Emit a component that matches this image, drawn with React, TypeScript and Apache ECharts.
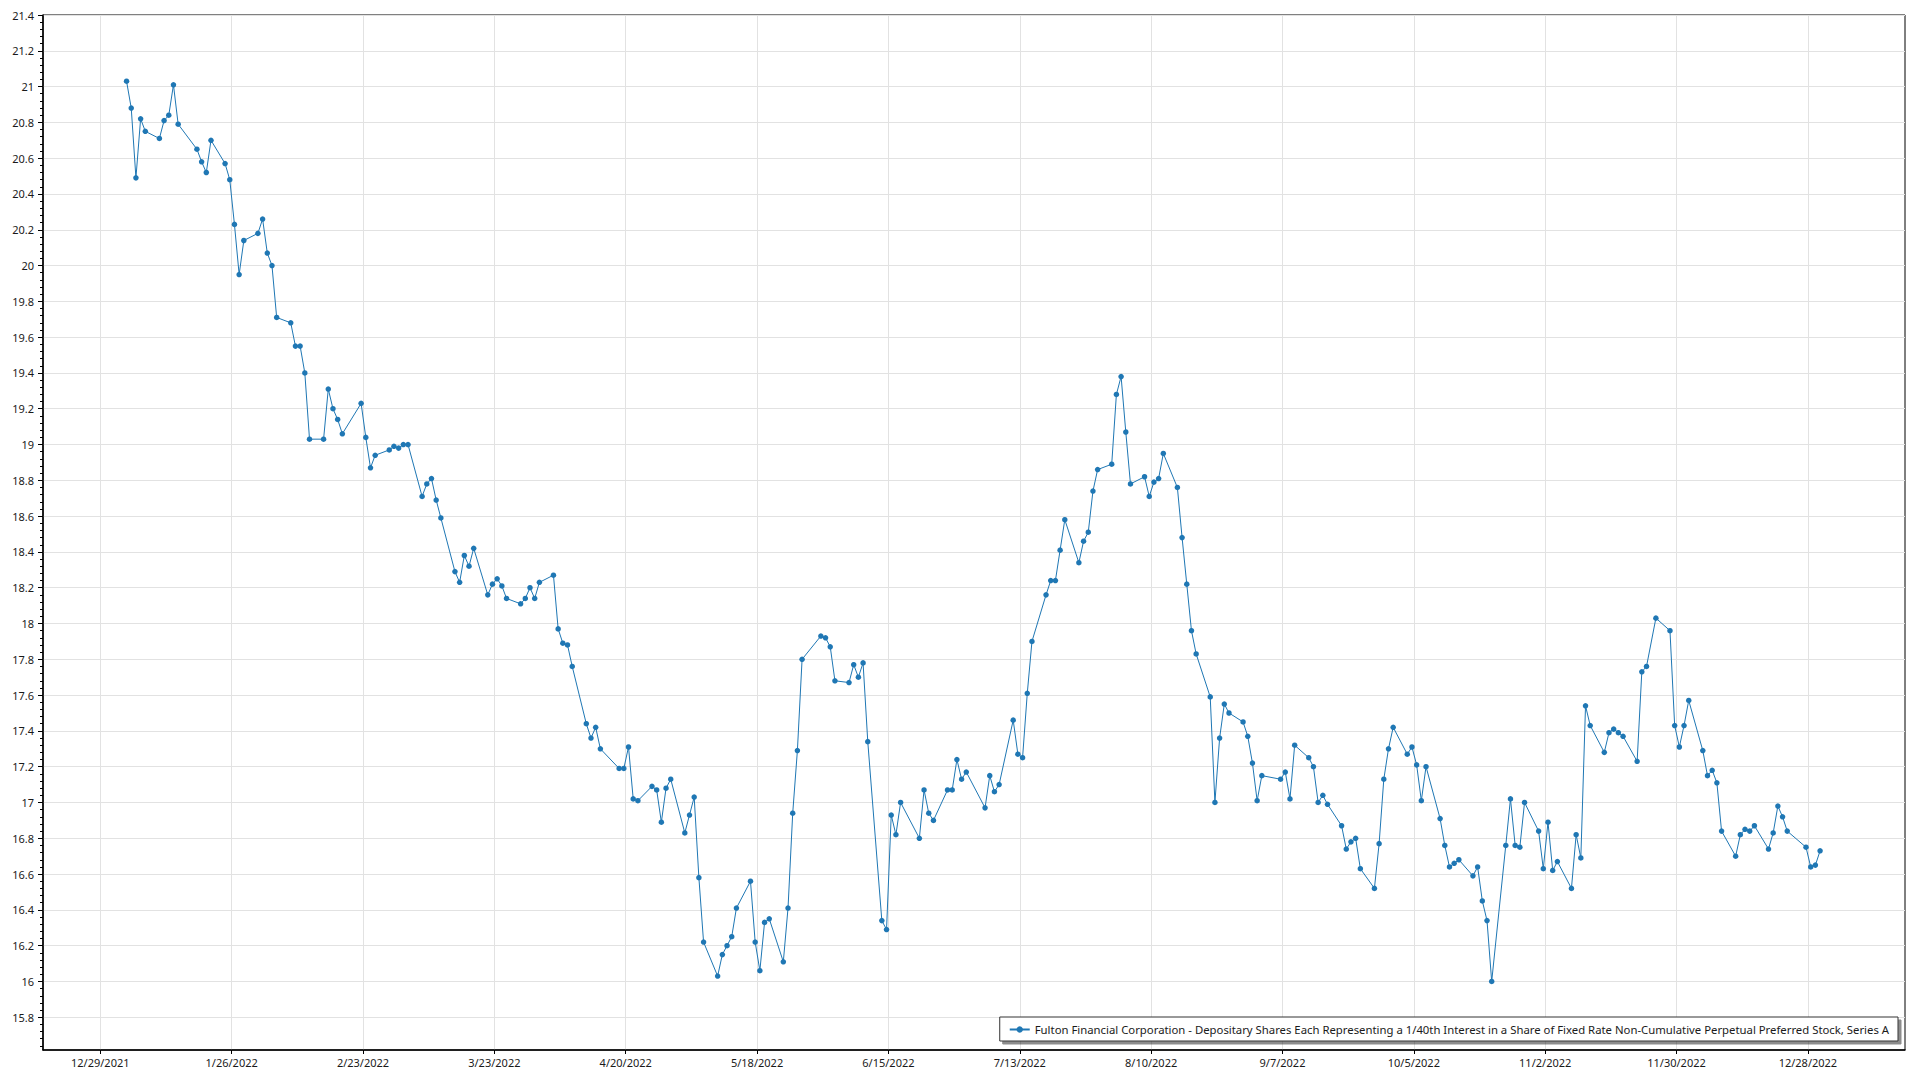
import React, { useEffect, useRef } from "react";
import * as echarts from "echarts";

const SERIES_NAME =
  "Fulton Financial Corporation - Depositary Shares Each Representing a 1/40th Interest in a Share of Fixed Rate Non-Cumulative Perpetual Preferred Stock, Series A";

// Trading days of 2022 (day of month) and closing prices
const janDays = [3, 4, 5, 6, 7, 10, 11, 12, 13, 14, 18, 19, 20, 21, 24, 25, 26, 27, 28, 31];
const janPrices = [21.03, 20.88, 20.49, 20.82, 20.75, 20.71, 20.81, 20.84, 21.01, 20.79, 20.65, 20.58, 20.52, 20.7, 20.57, 20.48, 20.23, 19.95, 20.14, 20.18];
const febDays = [1, 2, 3, 4, 7, 8, 9, 10, 11, 14, 15, 16, 17, 18, 22, 23, 24, 25, 28];
const febPrices = [20.26, 20.07, 20.0, 19.71, 19.68, 19.55, 19.55, 19.4, 19.03, 19.03, 19.31, 19.2, 19.14, 19.06, 19.23, 19.04, 18.87, 18.94, 18.97];
const marDays = [1, 2, 3, 4, 7, 8, 9, 10, 11, 14, 15, 16, 17, 18, 21, 22, 23, 24, 25, 28, 29, 30, 31];
const marPrices = [18.99, 18.98, 19.0, 19.0, 18.71, 18.78, 18.81, 18.69, 18.59, 18.29, 18.23, 18.38, 18.32, 18.42, 18.16, 18.22, 18.25, 18.21, 18.14, 18.11, 18.14, 18.2, 18.14];
const aprDays = [1, 4, 5, 6, 7, 8, 11, 12, 13, 14, 18, 19, 20, 21, 22, 25, 26, 27, 28, 29];
const aprPrices = [18.23, 18.27, 17.97, 17.89, 17.88, 17.76, 17.44, 17.36, 17.42, 17.3, 17.19, 17.19, 17.31, 17.02, 17.01, 17.09, 17.07, 16.89, 17.08, 17.13];
const mayDays = [2, 3, 4, 5, 6, 9, 10, 11, 12, 13, 16, 17, 18, 19, 20, 23, 24, 25, 26, 27, 31];
const mayPrices = [16.83, 16.93, 17.03, 16.58, 16.22, 16.03, 16.15, 16.2, 16.25, 16.41, 16.56, 16.22, 16.06, 16.33, 16.35, 16.11, 16.41, 16.94, 17.29, 17.8, 17.93];
const junDays = [1, 2, 3, 6, 7, 8, 9, 10, 13, 14, 15, 16, 17, 21, 22, 23, 24, 27, 28, 29, 30];
const junPrices = [17.92, 17.87, 17.68, 17.67, 17.77, 17.7, 17.78, 17.34, 16.34, 16.29, 16.93, 16.82, 17.0, 16.8, 17.07, 16.94, 16.9, 17.07, 17.07, 17.24, 17.13];
const julDays = [1, 5, 6, 7, 8, 11, 12, 13, 14, 15, 18, 19, 20, 21, 22, 25, 26, 27, 28, 29];
const julPrices = [17.17, 16.97, 17.15, 17.06, 17.1, 17.46, 17.27, 17.25, 17.61, 17.9, 18.16, 18.24, 18.24, 18.41, 18.58, 18.34, 18.46, 18.51, 18.74, 18.86];
const augDays = [1, 2, 3, 4, 5, 8, 9, 10, 11, 12, 15, 16, 17, 18, 19, 22, 23, 24, 25, 26, 29, 30, 31];
const augPrices = [18.89, 19.28, 19.38, 19.07, 18.78, 18.82, 18.71, 18.79, 18.81, 18.95, 18.76, 18.48, 18.22, 17.96, 17.83, 17.59, 17.0, 17.36, 17.55, 17.5, 17.45, 17.37, 17.22];
const sepDays = [1, 2, 6, 7, 8, 9, 12, 13, 14, 15, 16, 19, 20, 21, 22, 23, 26, 27, 28, 29, 30];
const sepPrices = [17.01, 17.15, 17.13, 17.17, 17.02, 17.32, 17.25, 17.2, 17.0, 17.04, 16.99, 16.87, 16.74, 16.78, 16.8, 16.63, 16.52, 16.77, 17.13, 17.3, 17.42];
const octDays = [3, 4, 5, 6, 7, 10, 11, 12, 13, 14, 17, 18, 19, 20, 21, 24, 25, 26, 27, 28, 31];
const octPrices = [17.27, 17.31, 17.21, 17.01, 17.2, 16.91, 16.76, 16.64, 16.66, 16.68, 16.59, 16.64, 16.45, 16.34, 16.0, 16.76, 17.02, 16.76, 16.75, 17.0, 16.84];
const novDays = [1, 2, 3, 4, 7, 8, 9, 10, 11, 14, 15, 16, 17, 18, 21, 22, 23, 25, 28, 29, 30];
const novPrices = [16.63, 16.89, 16.62, 16.67, 16.52, 16.82, 16.69, 17.54, 17.43, 17.28, 17.39, 17.41, 17.39, 17.37, 17.23, 17.73, 17.76, 18.03, 17.96, 17.43, 17.31];
const decDays = [1, 2, 5, 6, 7, 8, 9, 12, 13, 14, 15, 16, 19, 20, 21, 22, 23, 27, 28, 29, 30];
const decPrices = [17.43, 17.57, 17.29, 17.15, 17.18, 17.11, 16.84, 16.7, 16.82, 16.85, 16.84, 16.87, 16.74, 16.83, 16.98, 16.92, 16.84, 16.75, 16.64, 16.65, 16.73];

const monthDays = [janDays, febDays, marDays, aprDays, mayDays, junDays, julDays, augDays, sepDays, octDays, novDays, decDays];
const monthPrices = [janPrices, febPrices, marPrices, aprPrices, mayPrices, junPrices, julPrices, augPrices, sepPrices, octPrices, novPrices, decPrices];

// x axis: days counted from 12/29/2021; tick labels every 4 weeks
const X_MIN = -12.21;
const X_MAX = 384.7;
const xTickDays = [0, 28, 56, 84, 112, 140, 168, 196, 224, 252, 280, 308, 336, 364];
const yTickValues = [15.8, 16, 16.2, 16.4, 16.6, 16.8, 17, 17.2, 17.4, 17.6, 17.8, 18, 18.2, 18.4, 18.6, 18.8, 19, 19.2, 19.4, 19.6, 19.8, 20, 20.2, 20.4, 20.6, 20.8, 21, 21.2, 21.4];
const Y_MIN = 15.617;
const Y_MAX = 21.4;
const POINT_TIME_OF_DAY = 0.6; // points sit a little past their date's tick

const DAY_MS = 86400000;
const ORIGIN = Date.UTC(2021, 11, 29);

function dayLabel(v: number): string {
  const d = new Date(ORIGIN + Math.round(v) * DAY_MS);
  return `${d.getUTCMonth() + 1}/${d.getUTCDate()}/${d.getUTCFullYear()}`;
}

export default function App() {
  const ref = useRef<HTMLDivElement>(null);

  useEffect(() => {
    if (!ref.current) return;
    const chart = echarts.init(ref.current, undefined, { renderer: "svg" });

    const data: [number, number][] = [];
    monthDays.forEach((days, m) => {
      days.forEach((day, i) => {
        const x = (Date.UTC(2022, m, day) - ORIGIN) / DAY_MS + POINT_TIME_OF_DAY;
        data.push([x, monthPrices[m][i]]);
      });
    });

    const minorTicks: number[] = [];
    for (let k = 0; k <= 150; k++) {
      const v = Math.round((15.64 + k * 0.04) * 100) / 100;
      if (v > Y_MAX + 1e-6) break;
      minorTicks.push(v);
    }

    const font = "'Noto Sans', 'Open Sans', sans-serif";

    chart.setOption({
      animation: false,
      backgroundColor: "#ffffff",
      grid: {
        left: 43,
        right: 15,
        top: 15,
        bottom: 30,
        show: true,
        borderColor: "#000000",
        borderWidth: 1,
        backgroundColor: "transparent",
        containLabel: false,
      },
      legend: {
        show: true,
        right: 22,
        top: 1017,
        orient: "horizontal",
        backgroundColor: "#ffffff",
        borderColor: "#333333",
        borderWidth: 1,
        borderRadius: 0,
        padding: [7, 9, 6, 9],
        itemWidth: 20,
        itemHeight: 8,
        shadowColor: "rgba(0,0,0,0.45)",
        shadowBlur: 0,
        shadowOffsetX: 3,
        shadowOffsetY: 3,
        textStyle: { fontFamily: font, fontSize: 11.33, color: "#1a1a1a" },
        data: [SERIES_NAME],
      },
      xAxis: {
        type: "value",
        min: X_MIN,
        max: X_MAX,
        axisLine: { show: true, onZero: false, lineStyle: { color: "#000000", width: 1.5 } },
        axisTick: { show: true, length: 4, lineStyle: { color: "#000000" }, customValues: xTickDays },
        axisLabel: {
          show: true,
          customValues: xTickDays,
          formatter: (v: number) => dayLabel(v),
          fontFamily: font,
          fontSize: 11,
          color: "#1a1a1a",
          margin: 7,
        },
        splitLine: { show: true, lineStyle: { color: "#e2e2e2", width: 1 } },
      },
      yAxis: [
        {
          type: "value",
          min: Y_MIN,
          max: Y_MAX,
          position: "left",
          axisLine: { show: true, onZero: false, lineStyle: { color: "#000000", width: 1.5 } },
          axisTick: { show: true, length: 5, lineStyle: { color: "#000000" }, customValues: yTickValues },
          axisLabel: {
            show: true,
            customValues: yTickValues,
            fontFamily: font,
            fontSize: 11,
            color: "#1a1a1a",
            margin: 9,
          },
          splitLine: { show: true, lineStyle: { color: "#e2e2e2", width: 1 } },
        },
        {
          type: "value",
          min: Y_MIN,
          max: Y_MAX,
          position: "left",
          offset: 0,
          axisLine: { show: false, onZero: false },
          axisTick: { show: true, length: 3, lineStyle: { color: "#000000" }, customValues: minorTicks },
          axisLabel: { show: false },
          splitLine: { show: false },
        },
      ],
      series: [
        {
          name: SERIES_NAME,
          type: "line",
          xAxisIndex: 0,
          yAxisIndex: 0,
          data,
          symbol: "circle",
          symbolSize: 5.5,
          showSymbol: true,
          showAllSymbol: true,
          lineStyle: { color: "#1f77b4", width: 1 },
          itemStyle: { color: "#1f77b4" },
          emphasis: { disabled: true },
        },
      ],
    });

    return () => chart.dispose();
  }, []);

  return (
    <div
      ref={ref}
      style={{ position: "absolute", left: 0, top: 0, width: 1920, height: 1080 }}
    />
  );
}
